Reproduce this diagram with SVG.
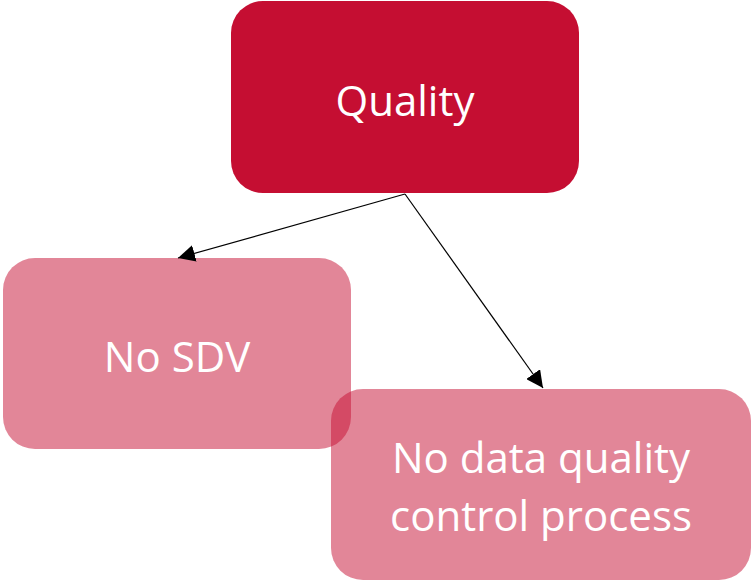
<svg xmlns="http://www.w3.org/2000/svg" width="753" height="581" viewBox="0 0 753 581">
  <style>
    .label { font-family: "Open Sans", "Liberation Sans", sans-serif; font-size: 42px; fill: #ffffff; text-anchor: middle; }
    .top { fill: #C50E32; }
    .sub { fill: #C50E32; fill-opacity: 0.5; }
    .edge { stroke: #000000; stroke-width: 1.2; fill: none; marker-end: url(#head); }
  </style>
  <defs>
    <marker id="head" viewBox="0 0 10 10" refX="10" refY="5" markerWidth="17" markerHeight="17" markerUnits="userSpaceOnUse" orient="auto">
      <path d="M0,0 L10,5 L0,10 Z" fill="#000000"/>
    </marker>
  </defs>
  <rect width="753" height="581" fill="#ffffff"/>

  <g id="node-quality">
    <rect class="top" x="231" y="1" width="348" height="192" rx="32" ry="32"/>
    <text class="label" x="405" y="116">Quality</text>
  </g>

  <g id="node-no-sdv">
    <rect class="sub" x="3" y="258" width="348" height="191" rx="32" ry="32"/>
    <text class="label" x="177" y="372">No SDV</text>
  </g>

  <g id="node-no-dq-process">
    <rect class="sub" x="331" y="389" width="420" height="191" rx="32" ry="32"/>
    <text class="label" x="541" y="473">No data quality</text>
    <text class="label" x="541" y="531">control process</text>
  </g>

  <g id="connectors">
    <line class="edge" x1="405" y1="194" x2="178" y2="258"/>
    <line class="edge" x1="405" y1="194" x2="543" y2="388"/>
  </g>
</svg>
